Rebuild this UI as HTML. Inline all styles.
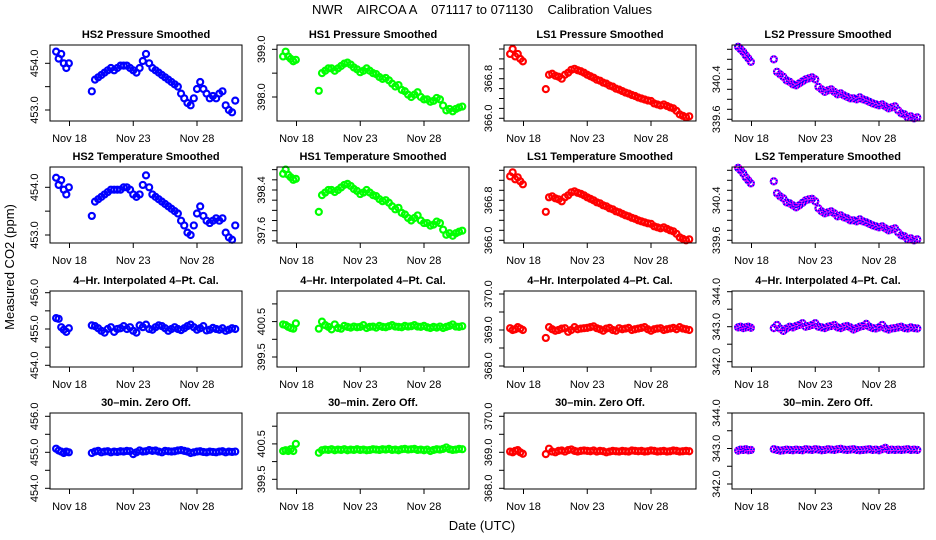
<!DOCTYPE html>
<html><head><meta charset="utf-8"><style>
html,body{margin:0;padding:0;background:#fff;}
svg{display:block;font-family:"Liberation Sans",Arial,sans-serif;}
</style></head><body>
<svg id="chart" width="936" height="540" viewBox="0 0 936 540" xmlns="http://www.w3.org/2000/svg">
<rect x="0" y="0" width="936" height="540" fill="#fff"/>
<text x="482" y="14" font-size="13" text-anchor="middle" xml:space="preserve">NWR    AIRCOA A    071117 to 071130    Calibration Values</text>
<text x="0" y="0" font-size="13" text-anchor="middle" transform="translate(14,267) rotate(-90)">Measured CO2 (ppm)</text>
<text x="482" y="530" font-size="13" text-anchor="middle">Date (UTC)</text>
<g id="panels"></g>
</svg>
<script>
const days = [16.95,17.15,17.35,17.55,17.75,17.95,
19.75,20.0,20.25,20.5,20.75,21.0,21.25,21.5,21.75,22.0,22.25,22.5,22.75,23.0,23.25,23.5,23.75,24.0,
24.25,24.5,24.75,25.0,25.25,25.5,25.75,26.0,26.25,26.5,26.75,27.0,27.25,27.5,27.75,28.0,28.25,28.5,
28.75,29.0,29.25,29.5,29.75,30.0,30.25,30.5,30.75,31.0];
const xTickDays = [18,23,28];
const xTickLabels = ["Nov 18","Nov 23","Nov 28"];

const hs2Pressure = [454.25,454.1,454.2,454.0,453.9,454.0,
453.4,453.65,453.7,453.75,453.8,453.85,453.9,453.85,453.9,453.95,453.95,453.95,
453.9,453.85,453.8,453.9,454.05,454.2,454.0,453.9,453.85,453.8,453.75,453.7,
453.65,453.6,453.55,453.5,453.35,453.25,453.15,453.1,453.25,453.45,453.6,453.45,
453.35,453.25,453.3,453.25,453.35,453.4,453.1,453.0,452.95,453.2];
const hs2Temp = [454.2,454.05,454.15,453.95,453.85,454.0,
453.4,453.7,453.75,453.8,453.85,453.9,453.95,453.95,453.95,453.95,454.0,454.0,
453.95,453.85,453.8,453.85,454.05,454.25,454.0,453.85,453.8,453.75,453.7,453.65,
453.6,453.55,453.5,453.45,453.3,453.2,453.05,453.0,453.2,453.45,453.6,453.4,
453.3,453.25,453.3,453.35,453.3,453.35,453.05,452.95,452.9,453.2];
const hs1Pressure = [398.85,398.95,398.85,398.8,398.75,398.78,
398.13,398.5,398.55,398.6,398.6,398.55,398.6,398.65,398.7,398.72,398.68,398.62,
398.58,398.52,398.55,398.6,398.55,398.5,398.48,398.42,398.38,398.4,398.35,398.28,
398.22,398.25,398.15,398.12,398.05,398.0,398.05,398.1,398.0,397.95,397.95,397.9,
397.92,397.98,397.95,397.82,397.72,397.75,397.7,397.75,397.78,397.8];
const hs1Temp = [398.72,398.8,398.7,398.65,398.6,398.62,
397.97,398.3,398.35,398.4,398.4,398.36,398.4,398.45,398.5,398.52,398.48,398.42,
398.38,398.32,398.35,398.4,398.35,398.3,398.28,398.22,398.18,398.2,398.15,398.08,
398.02,398.05,397.95,397.92,397.85,397.8,397.85,397.9,397.8,397.75,397.75,397.7,
397.72,397.78,397.75,397.62,397.52,397.55,397.5,397.55,397.58,397.6];
const ls1Pressure = [367.3,367.4,367.25,367.3,367.2,367.15,
366.59,366.88,366.9,366.86,366.84,366.8,366.88,366.92,366.98,367.0,366.97,366.95,
366.92,366.88,366.85,366.82,366.78,366.76,366.72,366.7,366.66,366.64,366.6,366.58,
366.55,366.52,366.5,366.47,366.45,366.42,366.4,366.38,366.36,366.35,366.3,366.28,
366.26,366.28,366.25,366.22,366.2,366.15,366.08,366.05,366.02,366.04];
const ls1Temp = [367.28,367.36,367.22,367.26,367.18,367.12,
366.57,366.86,366.88,366.84,366.82,366.78,366.86,366.9,366.96,366.98,366.95,366.93,
366.9,366.86,366.83,366.8,366.76,366.74,366.7,366.68,366.64,366.62,366.58,366.56,
366.53,366.5,366.48,366.45,366.43,366.4,366.38,366.36,366.34,366.33,366.28,366.26,
366.24,366.26,366.23,366.2,366.18,366.13,366.06,366.03,366.0,366.02];
const ls2Pressure = [341.05,341.0,340.95,340.88,340.82,340.75,
340.8,340.55,340.5,340.45,340.38,340.35,340.3,340.28,340.32,340.36,340.4,340.42,
340.44,340.4,340.25,340.2,340.15,340.18,340.2,340.15,340.1,340.12,340.08,340.05,
340.02,340.02,340.0,340.04,340.0,339.98,339.95,339.92,339.9,339.88,339.9,339.86,
339.82,339.84,339.86,339.78,339.72,339.7,339.64,339.66,339.62,339.64];
const ls2Temp = [341.05,341.0,340.94,340.86,340.8,340.74,
340.78,340.54,340.48,340.44,340.36,340.34,340.3,340.26,340.3,340.35,340.4,340.42,
340.43,340.38,340.24,340.18,340.14,340.16,340.18,340.14,340.08,340.1,340.06,340.04,
340.0,340.0,339.98,340.02,339.98,339.96,339.93,339.9,339.88,339.86,339.88,339.84,
339.8,339.82,339.84,339.76,339.7,339.68,339.62,339.64,339.6,339.62];
const hs2Interp = [455.3,455.28,455.05,454.98,454.92,455.02,
455.1,455.08,455.02,454.95,454.9,455.0,455.05,454.92,455.0,455.02,455.08,455.0,
455.05,454.95,454.9,455.1,455.05,455.12,455.0,454.98,455.05,455.1,455.08,455.02,
454.95,455.0,455.05,455.0,454.97,455.02,455.08,455.12,455.05,454.98,455.02,455.08,
454.96,454.98,455.03,455.0,454.98,455.02,454.95,454.98,455.02,455.0];
const hs1Interp = [400.42,400.4,400.35,400.32,400.3,400.45,
400.3,400.5,400.4,400.35,400.28,400.42,400.32,400.3,400.38,400.35,400.33,400.36,
400.34,400.35,400.4,400.32,400.35,400.36,400.33,400.38,400.35,400.34,400.37,400.4,
400.36,400.35,400.34,400.38,400.36,400.37,400.4,400.36,400.35,400.38,400.34,400.32,
400.35,400.33,400.36,400.32,400.35,400.38,400.42,400.36,400.35,400.37];
const ls1Interp = [369.05,369.0,369.02,369.08,369.04,369.0,
368.78,369.08,369.02,368.98,369.0,369.04,369.05,368.95,369.0,369.08,369.02,369.04,
369.05,369.06,369.08,369.1,369.05,369.02,368.98,369.04,369.06,369.0,368.98,369.05,
369.02,369.04,369.06,369.0,369.02,369.04,369.06,369.08,369.02,368.98,369.02,369.04,
369.05,369.0,369.02,369.04,369.06,369.02,369.08,369.04,369.02,369.0];
const ls2Interp = [342.98,343.0,342.96,342.98,343.0,342.97,
342.96,343.05,342.95,342.88,342.95,343.0,342.98,343.02,343.05,343.1,343.0,343.02,
343.05,343.1,343.0,342.98,342.96,343.0,343.02,343.05,342.98,342.96,343.0,343.02,
342.98,342.92,342.96,343.0,343.02,343.08,343.0,342.96,342.95,342.98,343.05,342.95,
342.92,342.95,342.96,342.98,343.0,342.96,342.95,342.98,342.96,342.95];
const hs2Zero = [455.1,455.05,455.02,454.98,455.02,455.0,
454.98,455.02,455.04,455.0,455.02,455.03,455.0,455.02,455.01,455.03,455.02,455.04,
455.03,454.95,455.0,455.05,455.02,455.03,455.06,455.04,455.05,455.02,455.0,455.04,
455.03,455.02,455.03,455.05,455.06,455.04,455.02,454.98,455.0,455.02,455.03,455.01,
455.0,455.02,455.01,455.0,455.02,455.03,455.0,455.02,455.01,455.02];
const hs1Zero = [400.3,400.32,400.3,400.35,400.3,400.5,
400.25,400.32,400.34,400.33,400.35,400.32,400.34,400.33,400.35,400.32,400.34,400.33,
400.35,400.33,400.34,400.32,400.33,400.35,400.34,400.33,400.35,400.34,400.36,400.33,
400.34,400.32,400.35,400.36,400.34,400.35,400.36,400.33,400.34,400.32,400.34,400.3,
400.33,400.35,400.34,400.36,400.4,400.35,400.33,400.34,400.36,400.35];
const ls1Zero = [369.02,369.0,369.04,369.06,369.0,368.96,
368.95,369.1,369.02,369.0,369.04,369.05,369.02,369.06,369.08,369.04,369.02,369.04,
369.05,369.04,369.03,369.05,369.02,369.04,369.03,369.0,369.02,369.04,369.03,369.02,
369.04,369.03,369.02,369.05,369.04,369.03,369.04,369.02,369.03,369.05,369.04,369.02,
369.03,369.04,369.02,369.03,369.05,369.04,369.02,369.03,369.04,369.03];
const ls2Zero = [342.94,342.97,342.96,342.98,342.95,342.96,
342.98,342.96,342.94,342.95,342.97,342.96,342.95,342.97,342.96,342.95,342.98,342.97,
342.96,342.98,342.97,342.95,342.96,342.98,342.97,342.96,342.98,342.99,342.97,342.96,
342.97,342.98,342.96,342.95,342.96,342.97,342.98,342.96,342.97,342.95,342.98,343.02,
342.96,342.97,342.96,342.97,342.96,342.97,342.98,342.96,342.97,342.96];

const NS = "http://www.w3.org/2000/svg";
const colLeft = [50,277,504,732];
const rowTop = [45,167,291,413];
const PW = 192, PH = 76;
const BLUE="#0000ff", GREEN="#00ff00", RED="#ff0000", PURPLE="purple";

function P(row,col,title,series,color,v1,y1,v2,y2,tickMin,tickMax,tickStep,labels){
  return {row,col,title,series,color,v1,y1,v2,y2,tickMin,tickMax,tickStep,labels};
}
const panels = [
 P(0,0,"HS2 Pressure Smoothed",hs2Pressure,BLUE,454,63.3,453,110,453,454,0.5,["453.0","454.0"]),
 P(0,1,"HS1  Pressure Smoothed",hs1Pressure,GREEN,399,49.3,398,97,398,399,0.5,["398.0","399.0"]),
 P(0,2,"LS1 Pressure Smoothed",ls1Pressure,RED,366.8,78.7,366,118.3,366,367.4,0.2,["366.0","366.8"]),
 P(0,3,"LS2 Pressure Smoothed",ls2Pressure,PURPLE,340.4,79.3,339.6,119.3,339.6,341.0,0.2,["339.6","340.4"]),
 P(1,0,"HS2 Temperature Smoothed",hs2Temp,BLUE,454,187.3,453,235,453,454,0.5,["453.0","454.0"]),
 P(1,1,"HS1 Temperature Smoothed",hs1Temp,GREEN,398.4,190,397.6,230.7,397.4,398.8,0.2,["397.6","398.4"]),
 P(1,2,"LS1 Temperature Smoothed",ls1Temp,RED,366.8,200.3,366,240.3,366,367.4,0.2,["366.0","366.8"]),
 P(1,3,"LS2 Temperature Smoothed",ls2Temp,PURPLE,340.4,200.3,339.6,240.3,339.6,341.0,0.2,["339.6","340.4"]),
 P(2,0,"4\u2013Hr. Interpolated 4\u2013Pt. Cal.",hs2Interp,BLUE,455,329,454,365.3,454,456,0.5,["454.0","455.0","456.0"]),
 P(2,1,"4\u2013Hr. Interpolated 4\u2013Pt. Cal.",hs1Interp,GREEN,400,339.3,399.5,357,399.5,401,0.5,["399.5","400.5"]),
 P(2,2,"4\u2013Hr. Interpolated 4\u2013Pt. Cal.",ls1Interp,RED,369,330,368,366,368,370,0.5,["368.0","369.0","370.0"]),
 P(2,3,"4\u2013Hr. Interpolated 4\u2013Pt. Cal.",ls2Interp,PURPLE,343,326.7,342,361.7,342,344,0.5,["342.0","343.0","344.0"]),
 P(3,0,"30\u2013min. Zero Off.",hs2Zero,BLUE,455,452.3,454,488.3,454,456,0.5,["454.0","455.0","456.0"]),
 P(3,1,"30\u2013min. Zero Off.",hs1Zero,GREEN,400,461.6,399.5,479.3,399.5,401,0.5,["399.5","400.5"]),
 P(3,2,"30\u2013min. Zero Off.",ls1Zero,RED,369,452.3,368,488.3,368,370,0.5,["368.0","369.0","370.0"]),
 P(3,3,"30\u2013min. Zero Off.",ls2Zero,PURPLE,343,448.5,342,484,342,344,0.5,["342.0","343.0","344.0"])
];

function mk(tag, attrs, parent){
  const e = document.createElementNS(NS, tag);
  for (const k in attrs) e.setAttribute(k, attrs[k]);
  parent.appendChild(e);
  return e;
}
const root = document.getElementById("panels");
panels.forEach((p, pi) => {
  const L = colLeft[p.col], T = rowTop[p.row];
  const xScale = d => L + 19.5 + (d - 18) * 12.75;
  const yScale = v => p.y1 + (v - p.v1) * (p.y2 - p.y1) / (p.v2 - p.v1);
  const g = mk("g", {}, root);
  
  
  const title = mk("text", {x: L + PW/2, y: T - 7, "font-size": 11, "font-weight": "bold", "text-anchor": "middle"}, g);
  title.textContent = p.title;
  
  
  xTickDays.forEach((d, i) => {
    const x = xScale(d);
    const tk = mk("line", {x1: x, x2: x, y1: T + PH, y2: T + PH + 5, stroke: "#000", "stroke-width": 1}, g);
    
    
    const lb = mk("text", {x: x, y: T + PH + 21, "font-size": 11, "text-anchor": "middle"}, g);
    lb.textContent = xTickLabels[i];
    
    
  });
  const n = Math.round((p.tickMax - p.tickMin) / p.tickStep);
  for (let k = 0; k <= n; k++) {
    const v = p.tickMin + k * p.tickStep;
    const y = yScale(v);
    const tk = mk("line", {x1: L - 5, x2: L, y1: y, y2: y, stroke: "#000", "stroke-width": 1}, g);
    
    
  }
  p.labels.forEach(s => {
    const y = yScale(parseFloat(s));
    const lb = mk("text", {x: 0, y: 0, "font-size": 11, "text-anchor": "middle", transform: "translate(" + (L - 12) + "," + y + ") rotate(-90)"}, g);
    lb.textContent = s;
    
    
  });
  const pts = mk("g", {fill: "none"}, g);
  
  
  p.series.forEach((v, i) => {
    const cx = xScale(days[i]), cy = yScale(v);
    if (p.color === PURPLE) {
      const c1 = mk("circle", {cx, cy, r: 3, stroke: "#0000ff", "stroke-width": 2.2}, pts);
      
      
      const c2 = mk("circle", {cx, cy, r: 3, stroke: "#ff00ff", "stroke-width": 2.2, "stroke-dasharray": "1.3 1.3"}, pts);
      
      
    } else {
      const c = mk("circle", {cx, cy, r: 3, stroke: p.color, "stroke-width": 2.2}, pts);
      
      
    }
  });
  const box = mk("rect", {x: L, y: T, width: PW, height: PH, fill: "none", stroke: "#000", "stroke-width": 1}, g);
  
  
});
</script>
</body></html>
